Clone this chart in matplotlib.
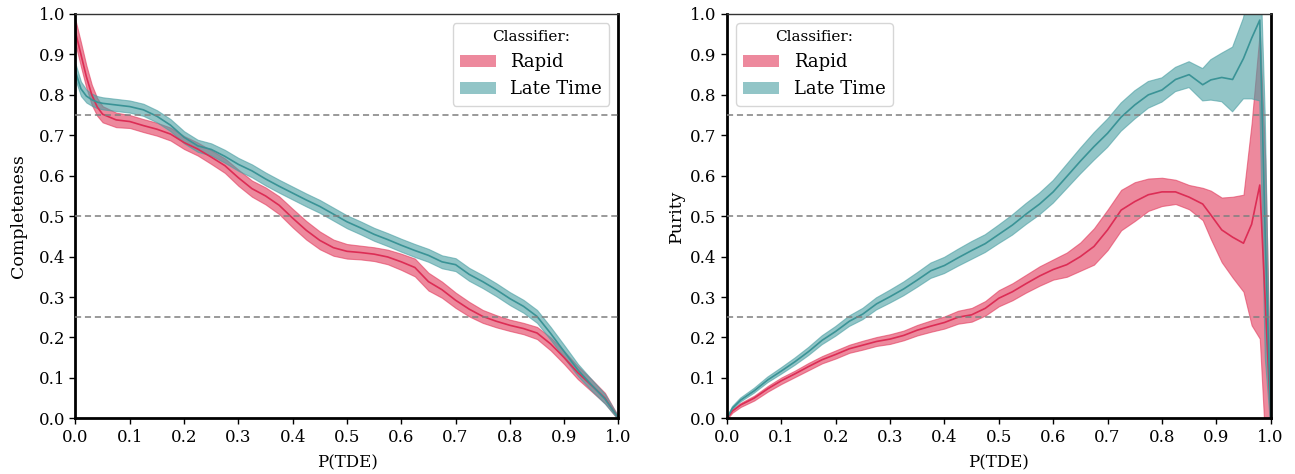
import numpy as np
import matplotlib
matplotlib.use("Agg")
import matplotlib.pyplot as plt
from matplotlib.patches import Patch

plt.rcParams['font.family'] = ['DejaVu Serif']

# --- Completeness (linker paneel) ---
p_comp = [0, 0.01, 0.02, 0.03, 0.04, 0.05, 0.075, 0.1, 0.125, 0.15, 0.175, 0.2, 0.225,
          0.25, 0.275, 0.3, 0.325, 0.35, 0.375, 0.4, 0.425, 0.45, 0.475, 0.5, 0.525,
          0.55, 0.575, 0.6, 0.625, 0.65, 0.675, 0.7, 0.725, 0.75, 0.775, 0.8, 0.825,
          0.85, 0.875, 0.9, 0.925, 0.95, 0.975, 1.0]
comp_rapid = [0.955, 0.90, 0.845, 0.80, 0.77, 0.752, 0.738, 0.734, 0.724, 0.715, 0.703,
              0.682, 0.666, 0.646, 0.625, 0.595, 0.568, 0.55, 0.527, 0.495, 0.465, 0.44,
              0.422, 0.413, 0.41, 0.406, 0.399, 0.387, 0.373, 0.338, 0.318, 0.292, 0.27,
              0.252, 0.24, 0.23, 0.222, 0.211, 0.184, 0.15, 0.113, 0.082, 0.05, 0.0]
comp_rapid_err = [0.03, 0.03, 0.028, 0.025, 0.022, 0.02, 0.018, 0.016, 0.016, 0.016, 0.016,
                  0.016, 0.016, 0.017, 0.018, 0.02, 0.02, 0.021, 0.022, 0.023, 0.023, 0.022,
                  0.02, 0.018, 0.017, 0.017, 0.018, 0.02, 0.022, 0.022, 0.02, 0.019, 0.018,
                  0.016, 0.015, 0.014, 0.014, 0.015, 0.016, 0.016, 0.016, 0.015, 0.013, 0.004]
comp_late = [0.857, 0.815, 0.797, 0.788, 0.782, 0.779, 0.775, 0.771, 0.763, 0.747, 0.725,
             0.695, 0.674, 0.665, 0.648, 0.628, 0.612, 0.592, 0.574, 0.557, 0.54, 0.524,
             0.505, 0.486, 0.471, 0.455, 0.442, 0.428, 0.415, 0.403, 0.387, 0.38, 0.356,
             0.338, 0.318, 0.296, 0.277, 0.252, 0.21, 0.165, 0.12, 0.083, 0.048, 0.0]
comp_late_err = [0.02, 0.018, 0.016, 0.015, 0.015, 0.015, 0.015, 0.015, 0.015, 0.015, 0.015,
                 0.015, 0.015, 0.015, 0.016, 0.016, 0.016, 0.016, 0.016, 0.016, 0.016, 0.016,
                 0.016, 0.016, 0.016, 0.016, 0.016, 0.016, 0.016, 0.016, 0.016, 0.016, 0.016,
                 0.016, 0.016, 0.016, 0.016, 0.016, 0.016, 0.016, 0.015, 0.014, 0.012, 0.004]

# --- Purity (parem paneel) ---
p_pur = [0, 0.01, 0.025, 0.05, 0.075, 0.1, 0.125, 0.15, 0.175, 0.2, 0.225, 0.25, 0.275,
         0.3, 0.325, 0.35, 0.375, 0.4, 0.425, 0.45, 0.475, 0.5, 0.525, 0.55, 0.575, 0.6,
         0.625, 0.65, 0.675, 0.7, 0.725, 0.75, 0.775, 0.8, 0.825, 0.85, 0.875, 0.89, 0.91,
         0.93, 0.95, 0.965, 0.98, 0.99, 1.0]
pur_rapid = [0.0, 0.018, 0.033, 0.05, 0.073, 0.093, 0.11, 0.128, 0.145, 0.158, 0.172, 0.181,
             0.19, 0.196, 0.205, 0.218, 0.228, 0.237, 0.25, 0.256, 0.272, 0.297, 0.313,
             0.333, 0.352, 0.368, 0.38, 0.4, 0.425, 0.466, 0.515, 0.536, 0.553, 0.56, 0.56,
             0.547, 0.53, 0.503, 0.466, 0.448, 0.433, 0.48, 0.577, 0.29, 0.0]
pur_rapid_err = [0.002, 0.004, 0.005, 0.006, 0.007, 0.008, 0.008, 0.009, 0.009, 0.01, 0.01,
                 0.011, 0.011, 0.012, 0.012, 0.013, 0.014, 0.015, 0.016, 0.017, 0.018, 0.02,
                 0.021, 0.022, 0.024, 0.025, 0.03, 0.035, 0.045, 0.05, 0.05, 0.048, 0.04,
                 0.035, 0.03, 0.03, 0.04, 0.06, 0.08, 0.1, 0.12, 0.25, 0.38, 0.35, 0.05]
pur_late = [0.0, 0.025, 0.045, 0.068, 0.095, 0.117, 0.14, 0.165, 0.193, 0.215, 0.24, 0.258,
            0.283, 0.301, 0.32, 0.342, 0.365, 0.378, 0.397, 0.415, 0.432, 0.455, 0.478,
            0.505, 0.53, 0.56, 0.598, 0.636, 0.672, 0.705, 0.745, 0.775, 0.8, 0.812, 0.838,
            0.85, 0.825, 0.837, 0.843, 0.838, 0.89, 0.94, 0.985, 0.45, 0.0]
pur_late_err = [0.002, 0.004, 0.005, 0.006, 0.007, 0.008, 0.009, 0.01, 0.011, 0.012, 0.013,
                0.014, 0.015, 0.016, 0.017, 0.018, 0.019, 0.02, 0.021, 0.022, 0.022, 0.023,
                0.025, 0.026, 0.027, 0.028, 0.03, 0.032, 0.034, 0.035, 0.035, 0.035, 0.033,
                0.03, 0.03, 0.032, 0.04, 0.05, 0.06, 0.08, 0.1, 0.15, 0.2, 0.3, 0.02]

klassid = ["Rapid", "Late Time"]
joon_varvid = ["#dc2d55", "#3a9396"]
ala_varvid = ["#e23a5c", "#4a9fa3"]

fig = plt.figure(figsize=(12.95, 4.74), dpi=100)
ax1 = fig.add_axes([0.0583, 0.1175, 0.4193, 0.853])
ax2 = fig.add_axes([0.5614, 0.1175, 0.4198, 0.853])


def joonista(ax, p, vaartused, vead):
    p = np.array(p)
    for v, e, jv, av in zip(vaartused, vead, joon_varvid, ala_varvid):
        v = np.array(v)
        e = np.array(e)
        ax.fill_between(p, v - e, v + e, color=av, alpha=0.6, lw=0.8)
        ax.plot(p, v, color=jv, lw=1.2)
    for h in [0.25, 0.5, 0.75]:
        ax.axhline(h, color="#7f7f7f", ls="--", lw=1.1, dashes=(4, 2.5), zorder=3)
    ax.set_xlim(0, 1)
    ax.set_ylim(0, 1)
    ax.set_xticks(np.arange(0, 1.01, 0.1))
    ax.set_yticks(np.arange(0, 1.01, 0.1))
    ax.tick_params(labelsize=12, length=4, width=1)
    for s in ["left", "bottom", "right"]:
        ax.spines[s].set_linewidth(2)
    ax.spines["top"].set_linewidth(1)
    ax.spines["top"].set_color("#333333")
    ax.set_xlabel("P(TDE)", fontsize=12, labelpad=6)


joonista(ax1, p_comp, [comp_rapid, comp_late], [comp_rapid_err, comp_late_err])
joonista(ax2, p_pur, [pur_rapid, pur_late], [pur_rapid_err, pur_late_err])
ax1.set_ylabel("Completeness", fontsize=12.5, labelpad=8)
ax2.set_ylabel("Purity", fontsize=12.5)

kasted = [Patch(facecolor=av, alpha=0.6, label=k) for k, av in zip(klassid, ala_varvid)]
ax1.legend(handles=kasted, title="Classifier:", loc="upper right", fontsize=13,
           title_fontsize=11)
ax2.legend(handles=kasted, title="Classifier:", loc="upper left", fontsize=13,
           title_fontsize=11)

fig.savefig("out.png", dpi=100)
